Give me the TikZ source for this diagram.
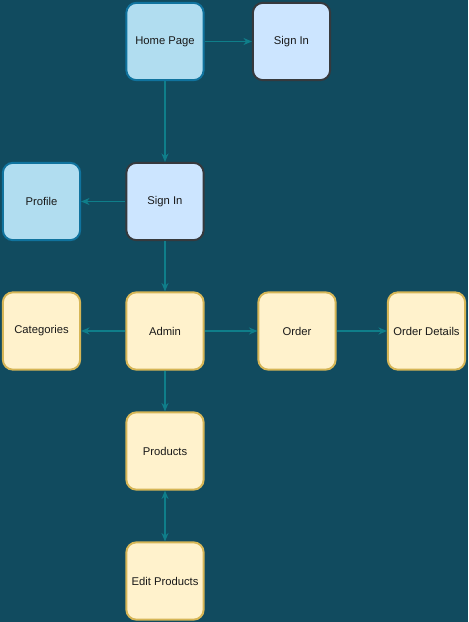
\documentclass[tikz,border=0pt]{standalone}
\usepackage{fontspec}
\setmainfont{Liberation Sans}
\usetikzlibrary{arrows.meta}
\definecolor{bgteal}{HTML}{114B5F}
\definecolor{linkteal}{HTML}{0F7E8A}
\definecolor{blueA}{HTML}{B1DDF0}
\definecolor{blueAline}{HTML}{10739E}
\definecolor{blueB}{HTML}{CCE5FF}
\definecolor{blueBline}{HTML}{36393D}
\definecolor{yell}{HTML}{FFF2CC}
\definecolor{yellline}{HTML}{D6B656}
\tikzset{
  page/.style={draw, line width=1.4pt, rounded corners=7pt, minimum width=1.93cm,
    minimum height=1.93cm, inner sep=0pt, align=center, text=black!90,
    font=\fontsize{8}{10}\selectfont},
  pageA/.style={page, fill=blueA, draw=blueAline},
  pageB/.style={page, fill=blueB, draw=blueBline},
  pageC/.style={page, fill=yell, draw=yellline},
  link/.style={draw=linkteal, line width=0.8pt, -{Stealth[length=6pt,width=5pt]}},
}

\begin{document}
\begin{tikzpicture}[x=0.025cm, y=-0.025cm]
		%%%%% START %%%%%
		\fill[bgteal] (0, 0) rectangle (468, 622);
		\useasboundingbox (0, 0) rectangle (468, 622);
		
		\node[pageA] (home) at (165, 41.5) {Home Page};
		\node[pageB] (signtop) at (291.5, 41.5) {Sign In};
		
		\node[pageB] (signin) at (165, 201.5) {Sign In};
		\node[pageA] (profile) at (41.5, 201.5) {Profile};
		
		\node[pageC] (admin) at (165, 331) {Admin};
		\node[pageC] (categ) at (41.5, 331) {Categories};
		\node[pageC] (order) at (297, 331) {Order};
		\node[pageC] (details) at (426.5, 331) {Order Details};
		
		\node[pageC] (products) at (165, 451) {Products};
		\node[pageC] (editprod) at (165, 581) {Edit Products};
		
		\draw[link] (home) -- (signtop);
		\draw[link] (home) -- (signin);
		\draw[link] (signin) -- (profile);
		\draw[link] (signin) -- (admin);
		\draw[link] (admin) -- (categ);
		\draw[link] (admin) -- (order);
		\draw[link] (order) -- (details);
		\draw[link] (admin) -- (products);
		\draw[link, {Stealth[length=6pt,width=5pt]}-{Stealth[length=6pt,width=5pt]}] (products) -- (editprod);
		%%%%% END %%%%%
	\end{tikzpicture}
\end{document}
